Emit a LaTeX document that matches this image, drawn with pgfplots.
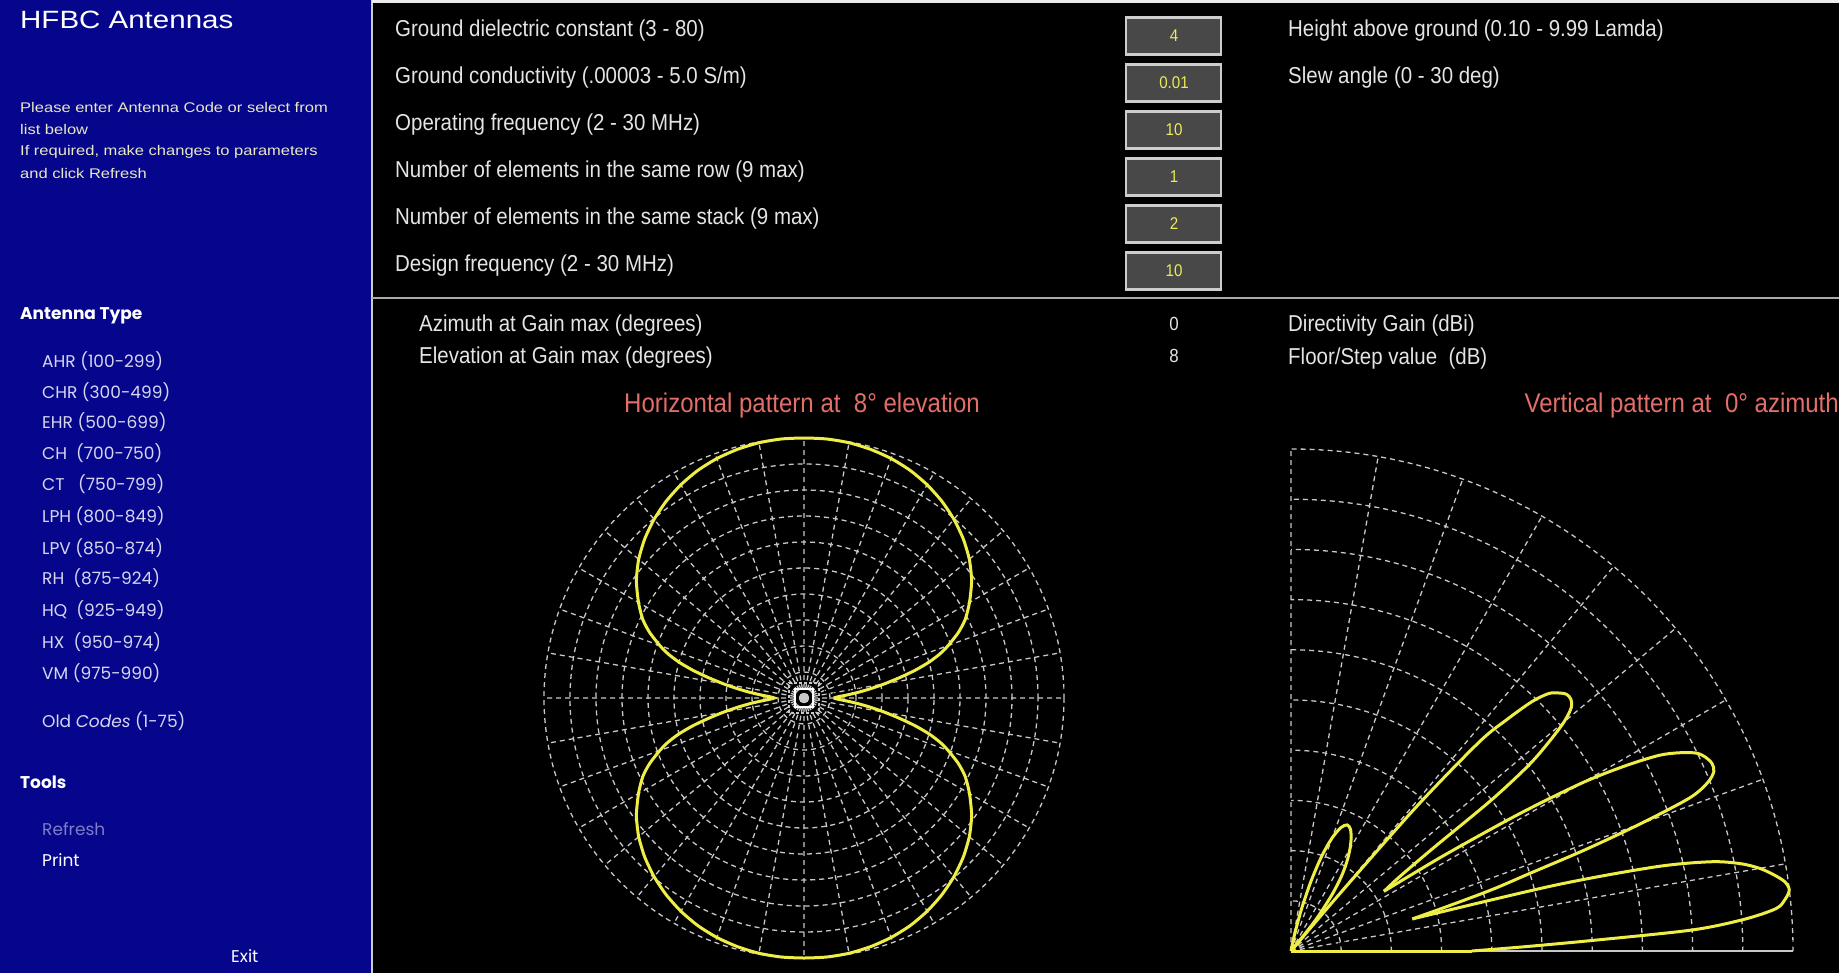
\documentclass[border=0pt]{standalone}
\usepackage{fontspec}
\setmainfont{Liberation Sans}
\newfontfamily\uifont{Liberation Sans}[FakeStretch=0.89]
\newfontfamily\leftfont{Liberation Sans}[FakeStretch=1.18]
\newfontfamily\menufont{Poppins}
\usepackage{pgfplots}
\pgfplotsset{compat=1.18}
\usepgfplotslibrary{polar}

\definecolor{panelblue}{RGB}{6,6,140}
\definecolor{labelgray}{RGB}{228,228,228}
\definecolor{hint}{RGB}{232,232,196}
\definecolor{menu}{RGB}{214,214,240}
\definecolor{dimmed}{RGB}{125,125,200}
\definecolor{boxgray}{RGB}{72,72,72}
\definecolor{boxedge}{RGB}{205,205,205}
\definecolor{valyellow}{RGB}{235,235,90}
\definecolor{salmon}{RGB}{228,110,105}
\definecolor{gridgray}{RGB}{200,200,200}
\definecolor{trace}{RGB}{238,238,70}
\definecolor{divider}{RGB}{170,170,170}

\begin{document}
\begin{tikzpicture}[x=1pt,y=-1pt,
    lbl/.style={inner sep=0pt, anchor=west, text=labelgray, font=\uifont\fontsize{23}{27}\selectfont},
    hintline/.style={inner sep=0pt, anchor=west, text=hint, font=\leftfont\fontsize{14}{16}\selectfont},
    item/.style={inner sep=0pt, anchor=west, text=menu, font=\menufont\fontsize{17}{20}\selectfont},
    head/.style={inner sep=0pt, anchor=west, text=white, font=\menufont\bfseries\fontsize{17}{20}\selectfont},
    val/.style={inner sep=0pt, text=valyellow, font=\uifont\fontsize{17}{20}\selectfont},
]
\useasboundingbox (0,0) rectangle (1839,973);

% ================== background ==================
\fill[black] (0,0) rectangle (1839,973);
\fill[panelblue] (0,0) rectangle (371,973);
\draw[boxedge, line width=2pt] (372,0) -- (372,973);
\draw[white!85!gray, line width=2.5pt] (372,1.5) -- (1839,1.5);
\draw[divider, line width=2.5pt] (372,298) -- (1839,298);

% ================== left panel ==================
\node[inner sep=0pt, anchor=west, text=white, font=\leftfont\fontsize{25}{28}\selectfont] at (20,20) {HFBC Antennas};
\node[hintline] at (20,107) {Please enter Antenna Code or select from};
\node[hintline] at (20,129) {list below};
\node[hintline] at (20,152) {If required, make changes to parameters};
\node[hintline] at (20,173) {and click Refresh};

\node[head] at (20,316) {Antenna Type};
\node[item] at (42,361) {AHR (100-299)};
\node[item] at (42,392) {CHR (300-499)};
\node[item] at (42,422) {EHR (500-699)};
\node[item] at (42,453) {CH~~(700-750)};
\node[item] at (42,484) {CT~~~(750-799)};
\node[item] at (42,516) {LPH (800-849)};
\node[item] at (42,548) {LPV (850-874)};
\node[item] at (42,578) {RH~~(875-924)};
\node[item] at (42,610) {HQ~~(925-949)};
\node[item] at (42,642) {HX~~(950-974)};
\node[item] at (42,673) {VM (975-990)};
\node[item] at (42,721) {Old \textit{Codes} (1-75)};
\node[head] at (20,782) {Tools};
\node[item, text=dimmed] at (42,829) {Refresh};
\node[item, text=white] at (42,860) {Print};
\node[item, text=white] at (231,956) {Exit};

% ================== parameter boxes ==================
\foreach \c/\v in {36/4, 83/0.01, 130/10, 177/1, 224/2, 271/10} {
  \filldraw[fill=boxgray, draw=boxedge, line width=2.5pt] (1126,\c-18.5) rectangle (1221,\c+18.5);
  \node[val] at (1174,\c) {\v};
}
\node[lbl] at (395,31)  {Ground dielectric constant (3 - 80)};
\node[lbl] at (395,78)  {Ground conductivity (.00003 - 5.0 S/m)};
\node[lbl] at (395,125) {Operating frequency (2 - 30 MHz)};
\node[lbl] at (395,172) {Number of elements in the same row (9 max)};
\node[lbl] at (395,219) {Number of elements in the same stack (9 max)};
\node[lbl] at (395,266) {Design frequency (2 - 30 MHz)};
\node[lbl] at (1288,31) {Height above ground (0.10 - 9.99 Lamda)};
\node[lbl] at (1288,78) {Slew angle (0 - 30 deg)};

% ================== results ==================
\node[lbl] at (419,326) {Azimuth at Gain max (degrees)};
\node[lbl] at (419,358) {Elevation at Gain max (degrees)};
\node[inner sep=0pt, text=labelgray, font=\uifont\fontsize{19}{22}\selectfont] at (1174,324) {0};
\node[inner sep=0pt, text=labelgray, font=\uifont\fontsize{19}{22}\selectfont] at (1174,356) {8};
\node[lbl] at (1288,326) {Directivity Gain (dBi)};
\node[lbl] at (1288,359) {Floor/Step value~~(dB)};

\node[inner sep=0pt, text=salmon, font=\uifont\fontsize{27}{30}\selectfont] at (802,406) {Horizontal pattern at~~8° elevation};
\node[inner sep=0pt, anchor=east, text=salmon, font=\uifont\fontsize{27}{30}\selectfont] at (1839,406) {Vertical pattern at~~0° azimuth};

\pgfplotsset{
  pattern grid/.style={
    scale only axis,
    ymin=0, ymax=1,
    ytick={0.1,0.2,0.3,0.4,0.5,0.6,0.7,0.8,0.9,1.0},
    xticklabel={}, yticklabel={},
    major tick length=0pt,
    axis line style={draw=none},
    grid=major,
    major grid style={draw=gridgray, line width=1.3pt, dash pattern=on 5pt off 4pt},
    clip=false,
  },
  lobe/.style={trace, line width=3pt, smooth, tension=0.5},
  lobe line/.style={trace, line width=3pt, sharp plot},
}

% ================== horizontal pattern (azimuth, relative radius) ==================
\begin{polaraxis}[pattern grid,
    at={(804pt,-698pt)}, anchor=center,
    width=520pt, height=520pt,
    xtick={0,10,...,350},
]
\addplot[trace, line width=3pt, smooth, tension=0.4] coordinates {
(0,0.114) (2,0.13) (4,0.165) (6,0.21) (8,0.26) (10,0.315) (12,0.375) (14,0.44)
(16,0.50) (18,0.55) (20,0.59) (23,0.645) (26,0.69) (30,0.735) (35,0.787) (40,0.83)
(45,0.866) (50,0.897) (55,0.924) (60,0.947) (65,0.966) (70,0.98) (75,0.99) (80,0.997)
(85,1.0) (90,1.0) (95,1.0) (100,0.997) (105,0.99) (110,0.98) (115,0.966) (120,0.947)
(125,0.924) (130,0.897) (135,0.866) (140,0.83) (145,0.787) (150,0.735) (154,0.69)
(157,0.645) (160,0.59) (162,0.55) (164,0.50) (166,0.44) (168,0.375) (170,0.315)
(172,0.26) (174,0.21) (176,0.165) (178,0.13) (180,0.114)
(182,0.13) (184,0.165) (186,0.21) (188,0.26) (190,0.315) (192,0.375) (194,0.44)
(196,0.50) (198,0.55) (200,0.59) (203,0.645) (206,0.69) (210,0.735) (215,0.787)
(220,0.83) (225,0.866) (230,0.897) (235,0.924) (240,0.947) (245,0.966) (250,0.98)
(255,0.99) (260,0.997) (265,1.0) (270,1.0) (275,1.0) (280,0.997) (285,0.99) (290,0.98)
(295,0.966) (300,0.947) (305,0.924) (310,0.897) (315,0.866) (320,0.83) (325,0.787)
(330,0.735) (334,0.69) (337,0.645) (340,0.59) (342,0.55) (344,0.50) (346,0.44)
(348,0.375) (350,0.315) (352,0.26) (354,0.21) (356,0.165) (358,0.13) (360,0.114)
};
% feed point marker at the centre
\draw[gridgray, line width=1.3pt, dash pattern=on 3pt off 2pt]
  ([shift={(-15pt,-15pt)}]axis cs:0,0) rectangle ([shift={(15pt,15pt)}]axis cs:0,0);
\draw[white, line width=2pt]
  ([shift={(-9pt,-9pt)}]axis cs:0,0) rectangle ([shift={(9pt,9pt)}]axis cs:0,0);
\fill[gridgray]
  ([shift={(-4pt,-4pt)}]axis cs:0,0) rectangle ([shift={(4pt,4pt)}]axis cs:0,0);
\end{polaraxis}

% ================== vertical pattern (elevation, relative radius) ==================
% one smooth piece per lobe, so the nulls between lobes stay sharp
\begin{polaraxis}[pattern grid,
    at={(1291pt,-951pt)}, anchor=south west,
    xmin=0, xmax=90,
    width=1004pt, height=1004pt,
    xtick={0,10,...,90},
]
\draw[gridgray, line width=1.5pt] (axis cs:0,0) -- (axis cs:0,1);
\addplot[lobe line] coordinates {(0,0.00) (0,0.36)};
\addplot[lobe] coordinates {
(0,0.36) (1,0.46) (2,0.60) (3,0.80) (4,0.905) (5,0.97) (6,0.99)
(7,1.00) (8,0.993) (9,0.973) (10,0.948) (11,0.912) (12,0.855) (13,0.745) (14,0.54)
(14.8,0.25)
};
\addplot[lobe] coordinates {
(14.8,0.25) (16,0.33) (17,0.42) (18,0.50) (19,0.62) (20,0.74) (21,0.85) (22,0.895)
(23,0.915) (24,0.918) (25,0.912) (26,0.899) (27,0.87) (28,0.83) (29,0.76)
(30,0.67) (31,0.53) (32,0.36) (32.7,0.22)
};
\addplot[lobe] coordinates {
(32.7,0.22) (34,0.25) (35,0.29) (36,0.36)
(37,0.50) (38,0.60) (39,0.66) (40,0.71) (41,0.74) (42,0.75) (43,0.75) (44,0.74)
(45,0.725) (46,0.69) (47,0.63) (48,0.56) (49,0.38) (49.6,0.15) (50,0.00)
};
\addplot[lobe] coordinates {
(50,0.00) (51,0.05) (52,0.09) (54,0.14) (56,0.18) (58,0.21) (60,0.235) (62,0.255) (64,0.27)
(66,0.275) (68,0.265) (70,0.24) (72,0.20) (74,0.145) (76,0.085) (78,0.03) (79,0.00)
};
\addplot[lobe line] coordinates {(79,0.00) (90,0.00)};
\end{polaraxis}

\end{tikzpicture}
\end{document}
